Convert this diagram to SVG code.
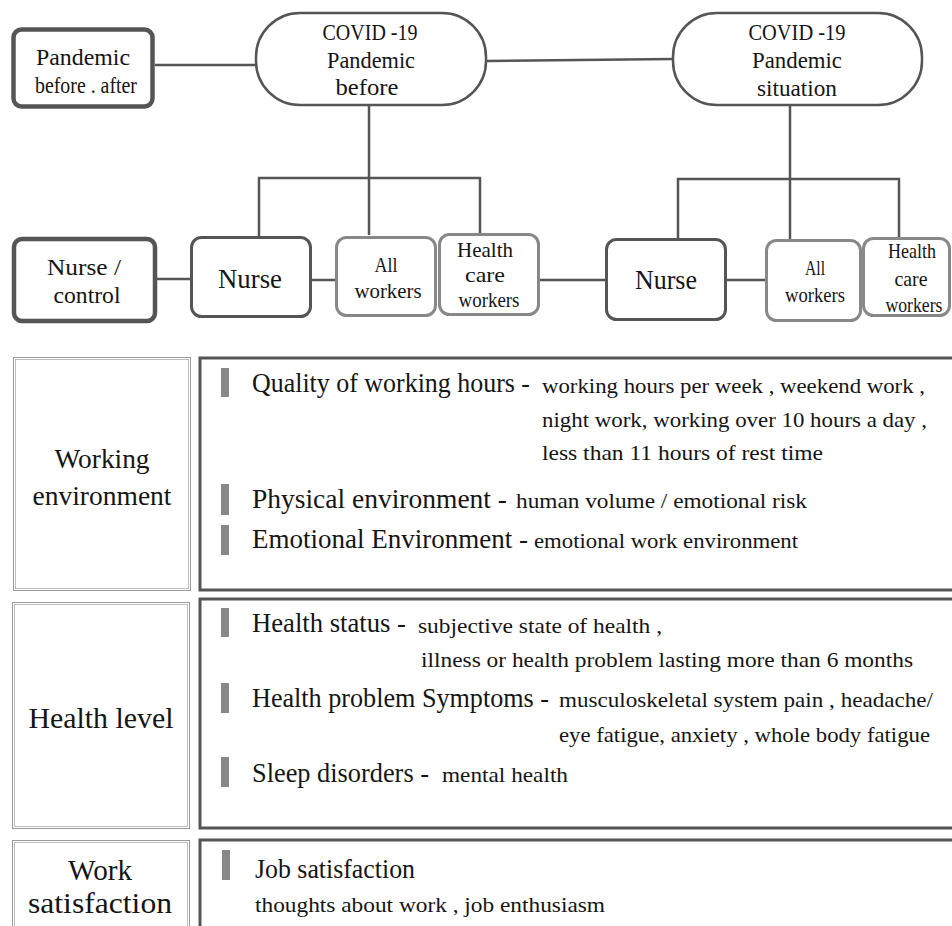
<svg xmlns="http://www.w3.org/2000/svg" width="952" height="926" viewBox="0 0 952 926">
<style>
text { fill: #151515; }
.c { text-anchor: middle; }
.heavy { fill: #fff; stroke: #555; stroke-width: 4.5; }
.dark { fill: #fff; stroke: #555; stroke-width: 3; }
.light { fill: #fff; stroke: #888; stroke-width: 3; }
.pill { fill: #fff; stroke: #555; stroke-width: 2.5; }
.conn { fill: none; stroke: #555; stroke-width: 2.5; }
.lab { fill: #fff; stroke: #9a9a9a; stroke-width: 1; }
.lab2 { fill: none; stroke: #bdbdbd; stroke-width: 1; }
.box { fill: #fff; stroke: #555; stroke-width: 3; }
.bar { fill: #888; }
.t22 { font-size: 23px; }
.t20 { font-size: 21px; }
.t26 { font-size: 27px; }
.t21 { font-size: 22px; }
.t28 { font-size: 29px; }
</style>
<rect width="952" height="926" fill="#fff"/>
<g font-family="Liberation Serif, DejaVu Serif, Times New Roman, serif">
<g id="connectors">
<path class="conn" d="M155,65 H256"/>
<path class="conn" d="M486,61 L673,59"/>
<path class="conn" d="M369,105 V235"/>
<path class="conn" d="M259,236 V178 H480 V234"/>
<path class="conn" d="M790,105 V239"/>
<path class="conn" d="M678,238 V179 H899 V237"/>
<path class="conn" d="M157,279 H191"/>
<path class="conn" d="M311,280 H336"/>
<path class="conn" d="M539,280 H606"/>
<path class="conn" d="M726,280 H766"/>
</g>

<g id="pandemic-before-after">
<rect class="heavy" x="13.5" y="29.5" width="139" height="77" rx="8"/>
<text class="c t22" x="83" y="65" textLength="94" lengthAdjust="spacingAndGlyphs">Pandemic</text>
<text class="c t22" x="86" y="93" textLength="102" lengthAdjust="spacingAndGlyphs">before . after</text>
</g>

<g id="covid-before">
<rect class="pill" x="256" y="13" width="230" height="92" rx="44"/>
<text class="c t22" x="370" y="40" textLength="95" lengthAdjust="spacingAndGlyphs">COVID -19</text>
<text class="c t22" x="371" y="68" textLength="88" lengthAdjust="spacingAndGlyphs">Pandemic</text>
<text class="c t22" x="367" y="95" textLength="63" lengthAdjust="spacingAndGlyphs">before</text>
</g>

<g id="covid-situation">
<rect class="pill" x="673" y="13" width="249" height="92" rx="44"/>
<text class="c t22" x="797" y="40" textLength="97" lengthAdjust="spacingAndGlyphs">COVID -19</text>
<text class="c t22" x="797" y="68" textLength="90" lengthAdjust="spacingAndGlyphs">Pandemic</text>
<text class="c t22" x="797" y="96" textLength="80" lengthAdjust="spacingAndGlyphs">situation</text>
</g>

<g id="nurse-control">
<rect class="heavy" x="14" y="239" width="141" height="82" rx="8"/>
<text class="c t22" x="84" y="275" textLength="74" lengthAdjust="spacingAndGlyphs">Nurse /</text>
<text class="c t22" x="87" y="303" textLength="67" lengthAdjust="spacingAndGlyphs">control</text>
</g>

<g id="nurse-before">
<rect class="dark" x="191.5" y="237.5" width="119" height="79" rx="10"/>
<text class="c t26" x="250" y="288" textLength="64" lengthAdjust="spacingAndGlyphs">Nurse</text>
</g>

<g id="all-workers-before">
<rect class="light" x="336.5" y="237.5" width="99" height="78" rx="10"/>
<text class="c t20" x="386" y="272" textLength="23" lengthAdjust="spacingAndGlyphs">All</text>
<text class="c t20" x="388" y="298" textLength="67" lengthAdjust="spacingAndGlyphs">workers</text>
</g>

<g id="health-care-before">
<rect class="light" x="439.5" y="234.5" width="99" height="80" rx="10"/>
<text class="c t20" x="485" y="257" textLength="56" lengthAdjust="spacingAndGlyphs">Health</text>
<text class="c t20" x="485" y="282" textLength="40" lengthAdjust="spacingAndGlyphs">care</text>
<text class="c t20" x="489" y="307" textLength="61" lengthAdjust="spacingAndGlyphs">workers</text>
</g>

<g id="nurse-situation">
<rect class="dark" x="606.5" y="239.5" width="119" height="80" rx="10"/>
<text class="c t26" x="666" y="289" textLength="62" lengthAdjust="spacingAndGlyphs">Nurse</text>
</g>

<g id="all-workers-situation">
<rect class="light" x="766.5" y="240.5" width="94" height="80" rx="10"/>
<text class="c t20" x="815" y="275" textLength="20" lengthAdjust="spacingAndGlyphs">All</text>
<text class="c t20" x="815" y="302" textLength="60" lengthAdjust="spacingAndGlyphs">workers</text>
</g>

<g id="health-care-situation">
<rect class="light" x="863.5" y="238.5" width="86" height="77" rx="10"/>
<text class="c t20" x="912" y="258" textLength="48" lengthAdjust="spacingAndGlyphs">Health</text>
<text class="c t20" x="911" y="286" textLength="33" lengthAdjust="spacingAndGlyphs">care</text>
<text class="c t20" x="914" y="312" textLength="57" lengthAdjust="spacingAndGlyphs">workers</text>
</g>

<g id="working-environment-label">
<rect class="lab" x="13.5" y="357.5" width="177" height="233"/>
<rect class="lab2" x="15.5" y="359.5" width="173" height="229"/>
<text class="c t26" x="102" y="468" textLength="95" lengthAdjust="spacingAndGlyphs">Working</text>
<text class="c t26" x="102" y="505" textLength="139" lengthAdjust="spacingAndGlyphs">environment</text>
</g>

<g id="working-environment-items">
<rect class="box" x="200" y="358" width="760" height="232"/>
<rect class="bar" x="221" y="368" width="8" height="29"/>
<rect class="bar" x="221" y="484" width="8" height="31"/>
<rect class="bar" x="221" y="525" width="8" height="30"/>
<text class="t26" x="252" y="392" textLength="278" lengthAdjust="spacingAndGlyphs">Quality of working hours -</text>
<text class="t21" x="542" y="393" textLength="383" lengthAdjust="spacingAndGlyphs">working hours per week , weekend work ,</text>
<text class="t21" x="542" y="427" textLength="385" lengthAdjust="spacingAndGlyphs">night work, working over 10 hours a day ,</text>
<text class="t21" x="542" y="460" textLength="281" lengthAdjust="spacingAndGlyphs">less than 11 hours of rest time</text>
<text class="t26" x="252" y="508" textLength="255" lengthAdjust="spacingAndGlyphs">Physical environment -</text>
<text class="t21" x="516" y="508" textLength="291" lengthAdjust="spacingAndGlyphs">human volume / emotional risk</text>
<text class="t26" x="252" y="548" textLength="276" lengthAdjust="spacingAndGlyphs">Emotional Environment -</text>
<text class="t21" x="534" y="548" textLength="264" lengthAdjust="spacingAndGlyphs">emotional work environment</text>
</g>

<g id="health-level-label">
<rect class="lab" x="12.5" y="602.5" width="177" height="226"/>
<rect class="lab2" x="14.5" y="604.5" width="173" height="222"/>
<text class="c t28" x="101" y="728" textLength="145" lengthAdjust="spacingAndGlyphs">Health level</text>
</g>

<g id="health-level-items">
<rect class="box" x="200" y="599" width="760" height="229"/>
<rect class="bar" x="221" y="608" width="8" height="29"/>
<rect class="bar" x="221" y="683" width="8" height="30"/>
<rect class="bar" x="221" y="757" width="8" height="30"/>
<text class="t26" x="252" y="632" textLength="154" lengthAdjust="spacingAndGlyphs">Health status -</text>
<text class="t21" x="418" y="633" textLength="244" lengthAdjust="spacingAndGlyphs">subjective state of health ,</text>
<text class="t21" x="421" y="667" textLength="492" lengthAdjust="spacingAndGlyphs">illness or health problem lasting more than 6 months</text>
<text class="t26" x="252" y="707" textLength="297" lengthAdjust="spacingAndGlyphs">Health problem Symptoms -</text>
<text class="t21" x="559" y="707" textLength="374" lengthAdjust="spacingAndGlyphs">musculoskeletal system pain , headache/</text>
<text class="t21" x="559" y="742" textLength="371" lengthAdjust="spacingAndGlyphs">eye fatigue, anxiety , whole body fatigue</text>
<text class="t26" x="252" y="782" textLength="177" lengthAdjust="spacingAndGlyphs">Sleep disorders -</text>
<text class="t21" x="442" y="782" textLength="126" lengthAdjust="spacingAndGlyphs">mental health</text>
</g>

<g id="work-satisfaction-label">
<rect class="lab" x="12.5" y="840.5" width="177" height="110"/>
<rect class="lab2" x="14.5" y="842.5" width="173" height="106"/>
<text class="c t28" x="100" y="880" textLength="64" lengthAdjust="spacingAndGlyphs">Work</text>
<text class="c t28" x="100" y="913" textLength="144" lengthAdjust="spacingAndGlyphs">satisfaction</text>
</g>

<g id="work-satisfaction-items">
<rect class="box" x="200" y="840" width="760" height="110"/>
<rect class="bar" x="222" y="850" width="8" height="30"/>
<text class="t26" x="255" y="878" textLength="160" lengthAdjust="spacingAndGlyphs">Job satisfaction</text>
<text class="t21" x="255" y="912" textLength="350" lengthAdjust="spacingAndGlyphs">thoughts about work , job enthusiasm</text>
</g>
</g>
</svg>
